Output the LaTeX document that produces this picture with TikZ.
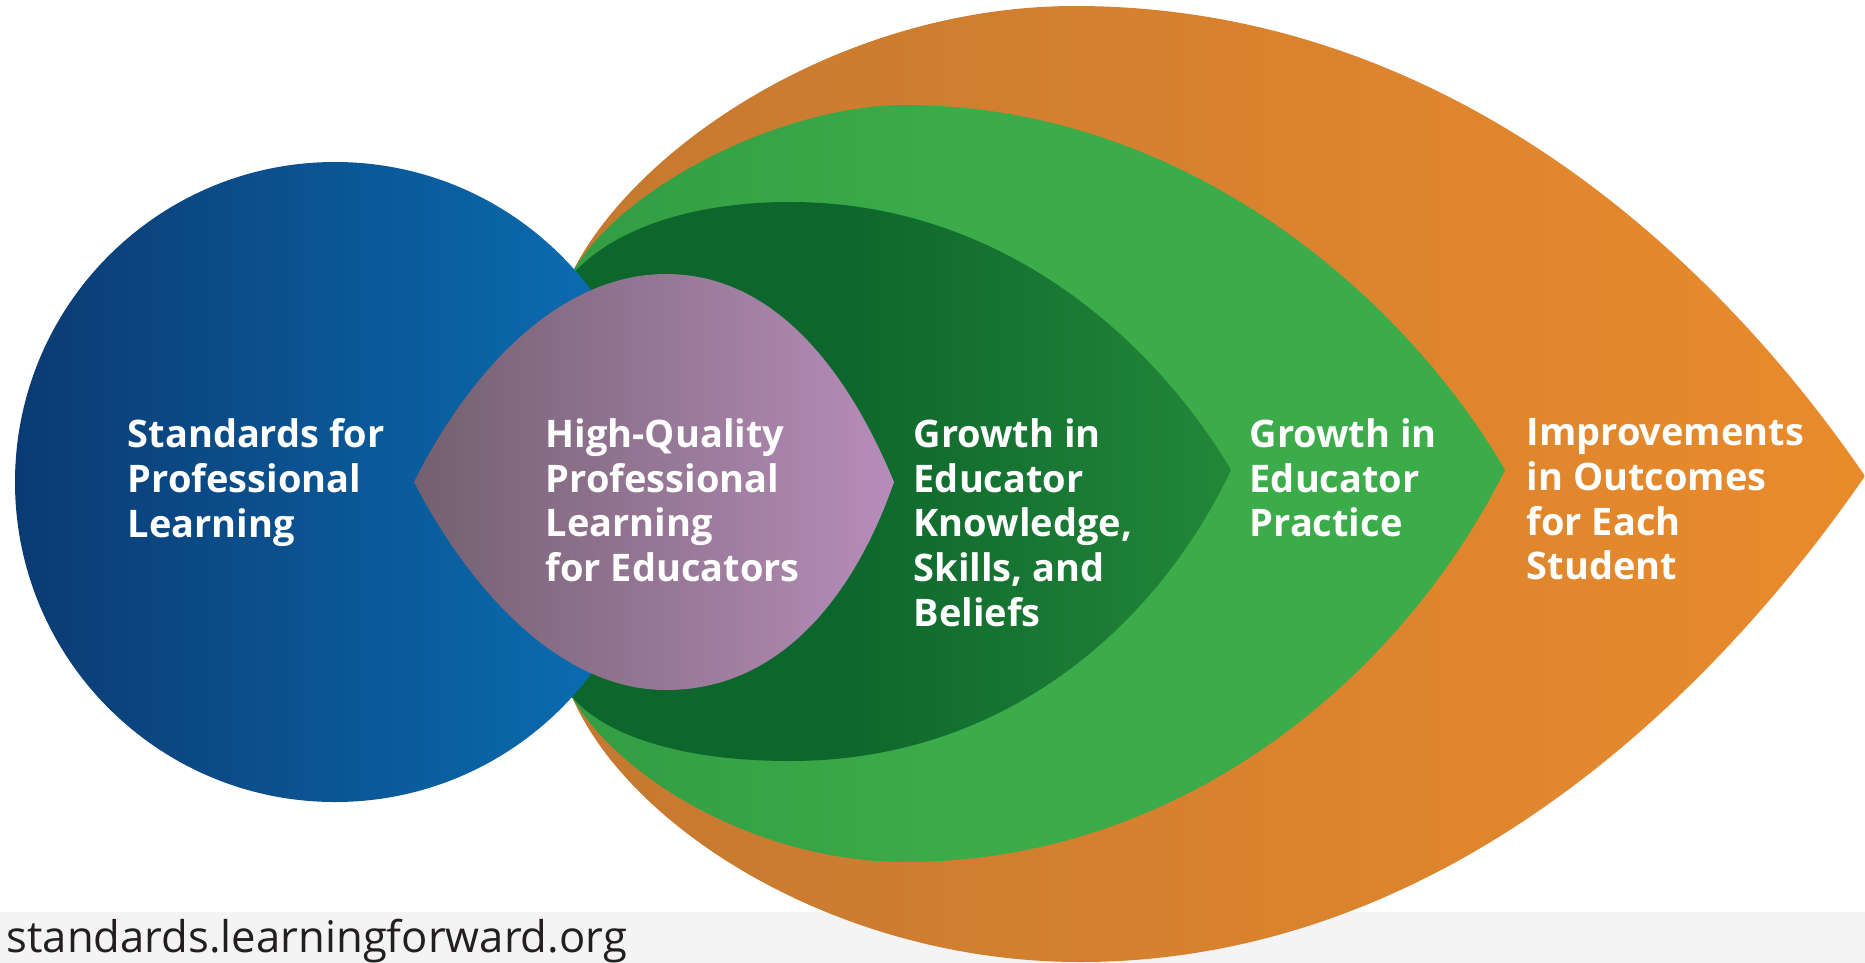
\documentclass[tikz,border=0pt]{standalone}
\usepackage{fontspec}
\setmainfont{Open Sans}
\definecolor{blueL}{HTML}{0B3A72}
\definecolor{blueR}{HTML}{0A71B6}
\definecolor{purL}{HTML}{736070}
\definecolor{purR}{HTML}{B78DBA}
\definecolor{dgL}{HTML}{0D662C}
\definecolor{dgR}{HTML}{238739}
\definecolor{lgL}{HTML}{2F9841}
\definecolor{lgR}{HTML}{3CAC4A}
\definecolor{orL}{HTML}{C07731}
\definecolor{orM}{HTML}{D6812F}
\definecolor{orR}{HTML}{E98B2B}
\definecolor{strip}{HTML}{F4F4F4}
\definecolor{urltext}{HTML}{231F20}
\tikzset{
  lbl/.style={anchor=north west, inner sep=0pt, align=left, text=white,
    font=\fontsize{10.8}{12.7}\selectfont\bfseries},
  urlstyle/.style={anchor=base west, inner sep=0pt, text=urltext,
    font=\fontsize{12.4}{14}\selectfont}
}
\begin{document}
\begin{tikzpicture}[x=0.01cm, y=-0.01cm]
\useasboundingbox (0,0) rectangle (1865,963);
\fill[white] (0,0) rectangle (1865,963);
% bottom strip
\fill[strip] (0,912) rectangle (1865,963);
% orange lens
\shade[left color=orL, right color=orR, middle color=orM]
  (440,487) .. controls (450,420) and (530,350) .. (570,277)
  .. controls (630,150) and (840,6) .. (1075,6)
  .. controls (1430,6) and (1700,235) .. (1865,476)
  .. controls (1700,715) and (1430,962) .. (1080,962)
  .. controls (840,962) and (630,830) .. (572,697)
  .. controls (500,620) and (450,540) .. (440,487) -- cycle;
% light green lens
\shade[left color=lgL, right color=lgR, middle color=lgR]
  (440,487) .. controls (450,420) and (530,350) .. (570,277)
  .. controls (615,190) and (780,105) .. (905,105)
  .. controls (1180,105) and (1400,290) .. (1505,470)
  .. controls (1400,680) and (1180,862) .. (905,862)
  .. controls (760,862) and (620,780) .. (572,697)
  .. controls (500,620) and (450,540) .. (440,487) -- cycle;
% dark green lens
\shade[left color=dgL, right color=dgR, middle color=dgL]
  (440,487) .. controls (450,420) and (530,350) .. (570,277)
  .. controls (615,225) and (700,202) .. (790,202)
  .. controls (1010,202) and (1160,350) .. (1231,470)
  .. controls (1160,620) and (1010,761) .. (790,761)
  .. controls (680,761) and (605,735) .. (572,697)
  .. controls (500,620) and (450,540) .. (440,487) -- cycle;
% blue circle
\shade[left color=blueL, right color=blueR]
  (335,482) circle [radius=320];
% purple lens
\shade[left color=purL, right color=purR]
  (414,482) .. controls (470,370) and (560,274) .. (666,274)
  .. controls (790,274) and (860,400) .. (894,482)
  .. controls (860,580) and (790,690) .. (666,690)
  .. controls (560,690) and (470,590) .. (414,482) -- cycle;
% labels
\node[lbl] (stand) at (127,418) {Standards for\\Professional\\Learning};
\node[lbl] (hq) at (545,418) {High-Quality\\Professional\\Learning\\for Educators};
\node[lbl] (gk) at (913,418) {Growth in\\Educator\\Knowledge,\\Skills, and\\Beliefs};
\node[lbl] (gp) at (1249,418) {Growth in\\Educator\\Practice};
\node[lbl] (imp) at (1526,418) {Improvements\\in Outcomes\\for Each\\Student};
\node[urlstyle] (url) at (6,952) {standards.learningforward.org};
\end{tikzpicture}
\end{document}
